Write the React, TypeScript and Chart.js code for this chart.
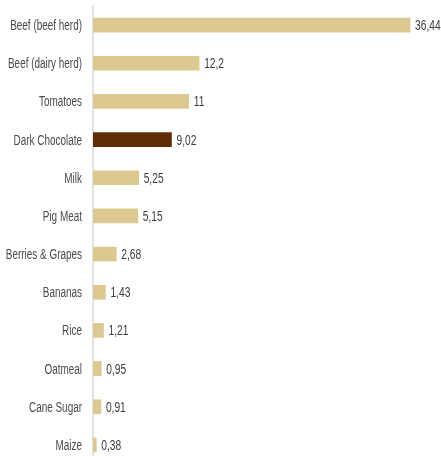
import React, { useEffect, useRef } from "react";
import { Chart, registerables } from "chart.js";

Chart.register(...registerables);

const categories = [
  "Beef (beef herd)",
  "Beef (dairy herd)",
  "Tomatoes",
  "Dark Chocolate",
  "Milk",
  "Pig Meat",
  "Berries & Grapes",
  "Bananas",
  "Rice",
  "Oatmeal",
  "Cane Sugar",
  "Maize",
];
const values = [36.44, 12.2, 11, 9.02, 5.25, 5.15, 2.68, 1.43, 1.21, 0.95, 0.91, 0.38];
const valueLabels = ["36,44", "12,2", "11", "9,02", "5,25", "5,15", "2,68", "1,43", "1,21", "0,95", "0,91", "0,38"];
const highlight = "Dark Chocolate";

const TAN = "#dcc891";
const BROWN = "#5f2d06";
const FONT = "'Liberation Sans', Arial, sans-serif";
const SQUEEZE = 0.71;

const textPlugin = {
  id: "condensedText",
  afterDatasetsDraw(chart: any) {
    const ctx = chart.ctx;
    const meta = chart.getDatasetMeta(0);
    const left = chart.chartArea.left;
    ctx.save();
    ctx.font = `14px ${FONT}`;
    ctx.textBaseline = "alphabetic";
    meta.data.forEach((bar: any, i: number) => {
      ctx.save();
      ctx.translate(left - 11, bar.y + 5);
      ctx.scale(SQUEEZE, 1);
      ctx.textAlign = "right";
      ctx.fillStyle = "#4a4a4a";
      ctx.fillText(categories[i], 0, 0);
      ctx.restore();
      ctx.save();
      ctx.translate(bar.x + 5, bar.y + 5);
      ctx.scale(SQUEEZE + 0.02, 1);
      ctx.textAlign = "left";
      ctx.fillStyle = "#3c3c3c";
      ctx.fillText(valueLabels[i], 0, 0);
      ctx.restore();
    });
    ctx.restore();
  },
};

export default function App() {
  const ref = useRef<HTMLCanvasElement>(null);
  useEffect(() => {
    if (!ref.current) return;
    const chart = new Chart(ref.current, {
      type: "bar",
      data: {
        labels: categories,
        datasets: [
          {
            data: values,
            backgroundColor: categories.map((c) => (c === highlight ? BROWN : TAN)),
            barThickness: 14,
            borderWidth: 0,
          },
        ],
      },
      options: {
        indexAxis: "y",
        animation: false,
        responsive: false,
        maintainAspectRatio: false,
        layout: { autoPadding: false, padding: { top: 6, bottom: 6, left: 0, right: 0 } },
        plugins: { legend: { display: false }, tooltip: { enabled: false } },
        scales: {
          x: { display: false, min: 0, max: 40 },
          y: {
            afterFit: (s: any) => {
              s.width = 93;
            },
            grid: { display: false, drawTicks: false },
            border: { display: true, color: "#e3e3e3", width: 2 },
            ticks: { display: false },
          },
        },
      },
      plugins: [textPlugin],
    });
    return () => chart.destroy();
  }, []);
  return (
    <div style={{ position: "fixed", left: 0, top: 0, width: 441, height: 456, overflow: "hidden", background: "#fff" }}>
      <canvas ref={ref} width={441} height={470} style={{ display: "block", width: 441, height: 470 }} />
    </div>
  );
}
